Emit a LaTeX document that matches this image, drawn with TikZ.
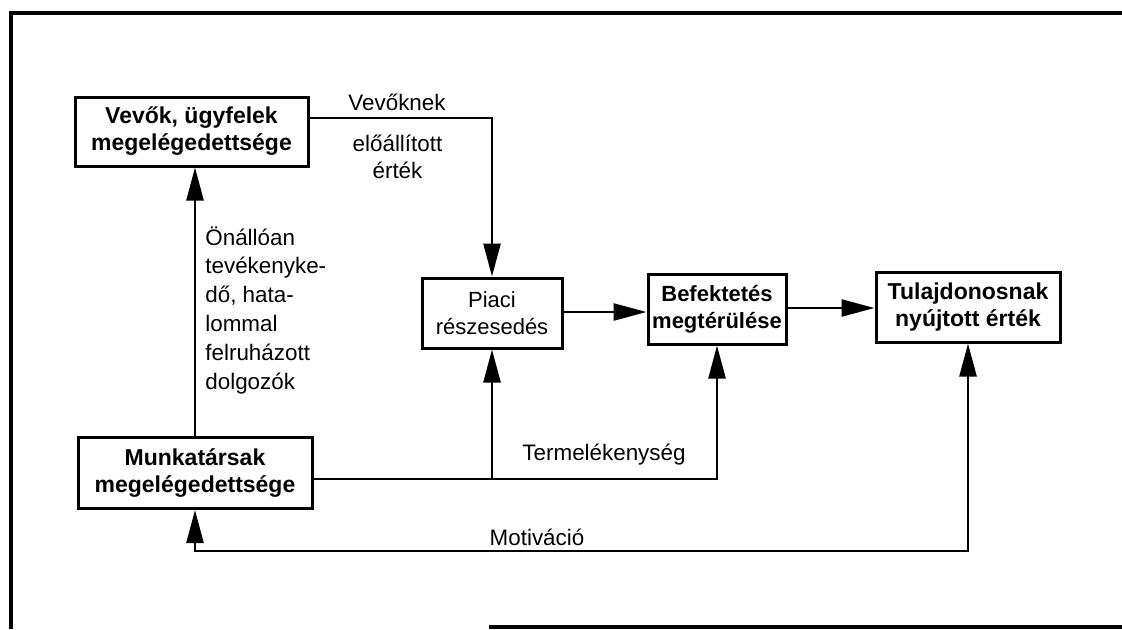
\documentclass[tikz,border=0pt]{standalone}
\usepackage{fontspec}
\setmainfont{Liberation Sans}
\usetikzlibrary{arrows.meta}
\begin{document}
\begin{tikzpicture}[x=0.5pt,y=-0.5pt,
  box/.style={draw,line width=1.5pt,align=center,inner sep=0pt,
    font=\fontsize{11.5pt}{13.5pt}\selectfont\bfseries},
  plainbox/.style={box,font=\fontsize{11pt}{13.5pt}\selectfont},
  lbl/.style={inner sep=0pt,font=\fontsize{11.2pt}{14.4pt}\selectfont},
  conn/.style={line width=1.25pt},
  tip/.style={},
  arr/.style={conn,-{Triangle[length=16.5pt,width=8.5pt]}},
  darr/.style={conn,{Triangle[length=16.5pt,width=8.5pt]}-{Triangle[length=16.5pt,width=8.5pt]}},
  frame/.style={line width=1.8pt}]
\useasboundingbox (0,0) rectangle (1122,629);

% outer frame
\draw[frame] (11,629) -- (11,13) -- (1125,13);
\draw[frame] (489,627) -- (1125,627);

% boxes
\node[box,minimum width=116.5pt,minimum height=34.5pt] (vevo) at (191.5,131.5)
  {Vevők, ügyfelek\\megelégedettsége};
\node[box,minimum width=117pt,minimum height=35.5pt] (munka) at (195,473)
  {Munkatársak\\megelégedettsége};
\node[plainbox,minimum width=70pt,minimum height=35pt] (piaci) at (492,313)
  {Piaci\\részesedés};
\node[box,minimum width=69pt,minimum height=35pt,font=\fontsize{11pt}{13.5pt}\selectfont\bfseries] (befek) at (717,309)
  {Befektetés\\megtérülése};
\node[box,minimum width=92pt,minimum height=35pt] (tulaj) at (968,307)
  {Tulajdonosnak\\nyújtott érték};

% connectors
\draw[arr] ([yshift=6.75pt]vevo.east) -| (piaci.north);
\draw[arr] (munka.north) -- (munka.north |- vevo.south);
\coordinate (prod) at (312,479);
\draw[arr] (prod) -| (befek.south);
\draw[arr] (piaci.south |- prod) -- (piaci.south);
\draw[arr] ([yshift=0.5pt]piaci.east) -- ([yshift=0.5pt]piaci.east -| befek.west);
\draw[arr] ([yshift=0.5pt]befek.east) -- ([yshift=0.5pt]befek.east -| tulaj.west);
\coordinate (mot) at (500,551);
\draw[darr] (tulaj.south) |- (mot) -| (munka.south);

% labels
\node[lbl] (l1) at (397,102) {Vevőknek};
\node[lbl,align=center,font=\fontsize{11.2pt}{13.5pt}\selectfont] (l2) at (397.5,157) {előállított\\érték};
\node[lbl,align=left,anchor=west] (l3) at (205,310)
  {Önállóan\\tevékenyke-\\dő, hata-\\lommal\\felruházott\\dolgozók};
\node[lbl] (l4) at (604,455) {Termelékenység};
\node[lbl] (l5) at (537,537) {Motiváció};
\end{tikzpicture}
\end{document}
